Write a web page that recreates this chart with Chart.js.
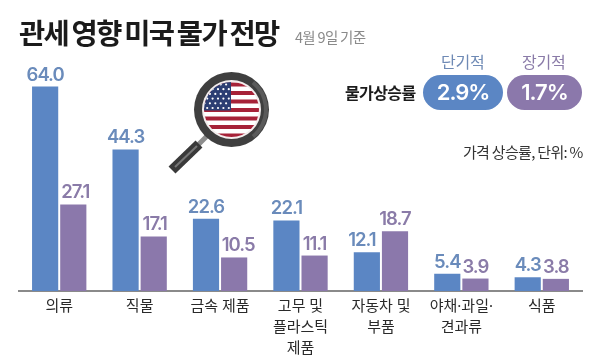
<!DOCTYPE html>
<html>
<head>
<meta charset="utf-8">
<script src="https://cdn.jsdelivr.net/npm/chart.js@4"></script>
<style>
  html, body { margin: 0; padding: 0; background: #fff; }
  #wrap { position: relative; width: 600px; height: 361px; overflow: hidden; font-family: "Noto Sans CJK KR", sans-serif; }
  #c { position: absolute; left: 0; top: 0; }
  .t { position: absolute; white-space: nowrap; line-height: 1; }
  .pill { position: absolute; top: 75px; height: 35px; border-radius: 18px; color: #fff; text-align: center; font-family: Inter, sans-serif; font-size: 22px; font-weight: 600; line-height: 35px; letter-spacing: -1px; }
</style>
</head>
<body>
<div id="wrap">
  <canvas id="c" width="600" height="361"></canvas>
  <div class="t" style="left:19px;top:18px;font-size:28.5px;font-weight:700;color:#1b1b1b;letter-spacing:-1.6px;word-spacing:-1.5px">관세 영향 미국 물가 전망</div>
  <div class="t" style="left:295px;top:30px;font-size:14.5px;color:#8a8a8a;letter-spacing:-0.7px">4월 9일 기준</div>
  <div class="t" style="left:441px;top:53px;font-size:16px;color:#6f8ab5;letter-spacing:-0.2px">단기적</div>
  <div class="t" style="left:522px;top:53px;font-size:16px;color:#8a7ba8;letter-spacing:-0.2px">장기적</div>
  <div class="t" style="left:345px;top:84px;font-size:16px;font-weight:700;color:#1b1b1b;letter-spacing:-0.6px">물가상승률</div>
  <div class="pill" style="left:423px;width:80px;background:#5b86c4">2.9%</div>
  <div class="pill" style="left:507px;width:75px;background:#8b78ab">1.7%</div>
  <div class="t" style="left:463px;top:144px;font-size:15px;color:#333;letter-spacing:-0.7px">가격 상승률, 단위: %</div>
</div>
<script>
const categories = [
  '의류',
  '직물',
  '금속 제품',
  ['고무 및', '플라스틱', '제품'],
  ['자동차 및', '부품'],
  ['야채·과일·', '견과류'],
  '식품'
];
const shortTerm = [64.0, 44.3, 22.6, 22.1, 12.1, 5.4, 4.3];
const longTerm = [27.1, 17.1, 10.5, 11.1, 18.7, 3.9, 3.8];

const blue = '#5b86c4';
const purple = '#8b78ab';
const labelColors = ['#6a8bbb', '#8a7ba8'];

// value labels over the bars, a few moved sideways to clear the neighbour
const labelNudge = { '0:4': -5, '1:0': 2, '1:1': 1, '1:2': 4 };
const valueLabels = {
  id: 'valueLabels',
  afterDatasetsDraw(chart) {
    const ctx = chart.ctx;
    ctx.save();
    ctx.font = '600 18.5px Inter, sans-serif';
    ctx.letterSpacing = '-1px';
    ctx.textAlign = 'center';
    ctx.textBaseline = 'alphabetic';
    chart.data.datasets.forEach((ds, i) => {
      ctx.fillStyle = labelColors[i];
      chart.getDatasetMeta(i).data.forEach((bar, j) => {
        ctx.fillText(ds.data[j].toFixed(1), bar.x + (labelNudge[i + ':' + j] || 0), bar.y - 6);
      });
    });
    ctx.restore();
  }
};

// magnifying glass with the flag
const magnifier = {
  id: 'magnifier',
  afterDraw(chart) {
    const ctx = chart.ctx;
    const cx = 231.5, cy = 109.5;
    ctx.save();
    ctx.lineCap = 'round';
    ctx.strokeStyle = '#8d8d8d';
    ctx.lineWidth = 5;
    ctx.beginPath(); ctx.moveTo(208, 135); ctx.lineTo(196, 147); ctx.stroke();
    ctx.lineCap = 'butt';
    ctx.strokeStyle = '#3a3a3a';
    ctx.lineWidth = 10;
    ctx.beginPath(); ctx.moveTo(199, 144); ctx.lineTo(172, 170); ctx.stroke();
    ctx.strokeStyle = '#777';
    ctx.lineWidth = 2;
    ctx.beginPath(); ctx.moveTo(197, 146); ctx.lineTo(175, 167); ctx.stroke();

    ctx.fillStyle = '#3f3f3f';
    ctx.beginPath(); ctx.arc(cx, cy, 37.5, 0, Math.PI * 2); ctx.fill();
    ctx.strokeStyle = '#5a5a5a';
    ctx.lineWidth = 4;
    ctx.beginPath(); ctx.arc(cx, cy, 34.5, -0.9, 0.9); ctx.stroke();
    ctx.fillStyle = '#f3eeee';
    ctx.beginPath(); ctx.arc(cx, cy, 29.5, 0, Math.PI * 2); ctx.fill();

    ctx.beginPath(); ctx.arc(cx, cy, 27.5, 0, Math.PI * 2); ctx.clip();
    ctx.fillStyle = '#fff';
    ctx.fillRect(cx - 30, cy - 30, 60, 60);
    ctx.fillStyle = '#a62238';
    for (let i = 0; i < 7; i++) {
      ctx.fillRect(cx - 30, cy - 27 + i * 8.5, 60, 4);
    }
    ctx.fillStyle = '#2c3e73';
    ctx.fillRect(cx - 30, cy - 30, 29.5, 31);
    ctx.fillStyle = '#fff';
    for (let r = 0; r < 6; r++) {
      for (let k = 0; k < 5; k++) {
        ctx.beginPath();
        ctx.arc(cx - 27 + k * 5.4 + (r % 2) * 2.7, cy - 25 + r * 4.7, 1.1, 0, Math.PI * 2);
        ctx.fill();
      }
    }
    ctx.restore();
  }
};

new Chart(document.getElementById('c'), {
  type: 'bar',
  data: {
    labels: categories,
    datasets: [
      { label: '단기적', data: shortTerm, backgroundColor: blue },
      { label: '장기적', data: longTerm, backgroundColor: purple }
    ]
  },
  options: {
    animation: false,
    responsive: false,
    layout: { padding: { left: 19, right: 18, top: 61, bottom: 0 } },
    categoryPercentage: 0.7,
    barPercentage: 0.93,
    plugins: {
      legend: { display: false },
      title: { display: false },
      tooltip: { enabled: false }
    },
    scales: {
      x: {
        afterFit(scale) { scale.height = 70; },
        grid: { display: false, drawTicks: false },
        border: { color: '#8a8a8a', width: 2 },
        ticks: {
          color: '#2a2a2a',
          padding: 5,
          maxRotation: 0,
          autoSkip: false,
          font: { family: '"Noto Sans", "Noto Sans CJK KR", sans-serif', size: 15, lineHeight: 1.4 }
        }
      },
      y: {
        display: false,
        min: 0,
        max: 72
      }
    }
  },
  plugins: [valueLabels, magnifier]
});
</script>
</body>
</html>
